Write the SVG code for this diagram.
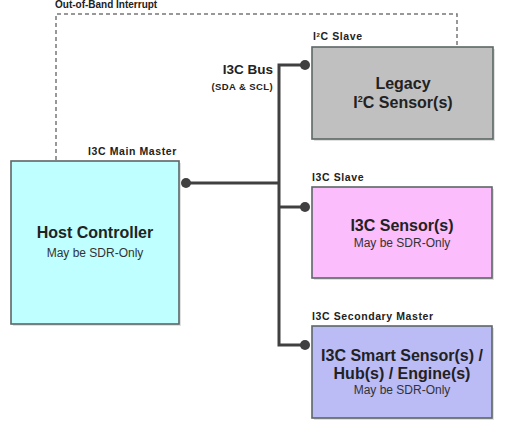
<svg xmlns="http://www.w3.org/2000/svg" width="508" height="422" viewBox="0 0 508 422">
<defs>
<style>
.box{stroke:#5c6666;stroke-width:1.6}
.lbl{font-family:"Liberation Sans",Arial,sans-serif;font-weight:bold;font-size:10.5px;letter-spacing:0.6px;fill:#222}
.title{font-family:"Liberation Sans",Arial,sans-serif;font-weight:bold;font-size:16px;fill:#222;text-anchor:middle}
.sub{font-family:"Liberation Sans",Arial,sans-serif;font-size:12px;fill:#333;text-anchor:middle}
.bus{fill:none;stroke:#404040;stroke-width:3}
.dot{fill:#404040}
.dash{fill:none;stroke:#777;stroke-width:1.5;stroke-dasharray:4,3}
.shadow{fill:#000;opacity:0.12}
</style>
</defs>
<rect width="508" height="422" fill="#fff"/>
<g id="connectors">
<text class="lbl" x="55" y="8" style="font-size:10px;letter-spacing:0">Out-of-Band Interrupt</text>
<path class="dash" d="M56,160 V14 H457 V47"/>
<path class="bus" d="M305,65 H279 V345 H305"/>
<path class="bus" d="M186,183 H279"/>
<path class="bus" d="M279,207 H305"/>
<circle class="dot" cx="186" cy="183" r="5"/>
<circle class="dot" cx="305" cy="65" r="5"/>
<circle class="dot" cx="305" cy="207" r="5"/>
<circle class="dot" cx="305" cy="345" r="5"/>
<text class="lbl" x="273" y="74" text-anchor="end" style="font-size:13.5px;letter-spacing:0">I3C Bus</text>
<text class="lbl" x="273" y="90" text-anchor="end" style="font-size:9.5px;letter-spacing:0.4px">(SDA &amp; SCL)</text>
</g>
<g id="host">
<rect class="shadow" x="13" y="163" width="168" height="163"/>
<rect class="box" x="11" y="161" width="168" height="163" fill="#bfffff"/>
<text class="lbl" x="88" y="155">I3C Main Master</text>
<text class="title" x="95" y="238">Host Controller</text>
<text class="sub" x="95" y="257">May be SDR-Only</text>
</g>
<g id="legacy">
<rect class="shadow" x="314" y="49" width="181" height="92"/>
<rect class="box" x="312" y="47" width="181" height="92" fill="#c0c0c0"/>
<text class="lbl" x="313" y="40">I<tspan dy="-3" style="font-size:6px">2</tspan><tspan dy="3">C Slave</tspan></text>
<text class="title" x="403" y="89">Legacy</text>
<text class="title" x="403" y="108">I<tspan dy="-6" style="font-size:9px">2</tspan><tspan dy="6">C Sensor(s)</tspan></text>
</g>
<g id="i3cslave">
<rect class="shadow" x="314" y="189" width="180" height="91"/>
<rect class="box" x="312" y="187" width="180" height="91" fill="#fbbdfb"/>
<text class="lbl" x="312" y="181">I3C Slave</text>
<text class="title" x="402" y="231">I3C Sensor(s)</text>
<text class="sub" x="402" y="247">May be SDR-Only</text>
</g>
<g id="secondary">
<rect class="shadow" x="314" y="328" width="180" height="92"/>
<rect class="box" x="312" y="326" width="180" height="92" fill="#bbbbf6"/>
<text class="lbl" x="312" y="320">I3C Secondary Master</text>
<text class="title" x="402" y="361">I3C Smart Sensor(s) /</text>
<text class="title" x="402" y="379">Hub(s) / Engine(s)</text>
<text class="sub" x="402" y="394">May be SDR-Only</text>
</g>
</svg>
